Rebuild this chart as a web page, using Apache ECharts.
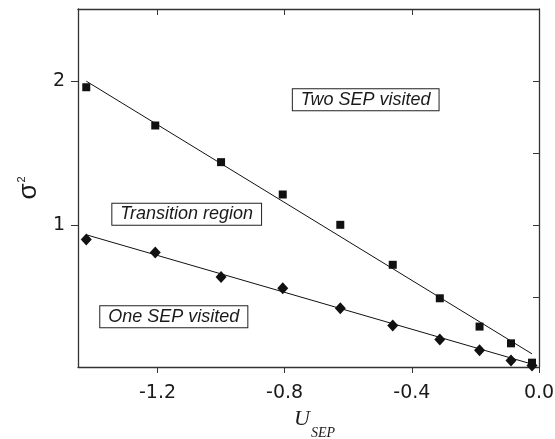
<!DOCTYPE html>
<html>
<head>
<meta charset="utf-8">
<script src="https://cdn.jsdelivr.net/npm/echarts@6/dist/echarts.min.js"></script>
<style>
html,body{margin:0;padding:0;background:#fff;}
#chart{width:555px;height:439px;}
</style>
</head>
<body>
<div id="chart"></div>
<script>
// ---- data ----
const uSep = [-1.424, -1.207, -1.0, -0.806, -0.625, -0.46, -0.312, -0.187, -0.088, -0.022];
const twoSep = [1.958, 1.693, 1.439, 1.215, 1.005, 0.728, 0.496, 0.30, 0.184, 0.05];
const oneSep = [0.903, 0.813, 0.644, 0.566, 0.427, 0.307, 0.21, 0.136, 0.065, 0.03];
const twoFitX = [-1.424, -0.022];
const twoFitY = [2.0, 0.111];
const oneFitX = [-1.424, -0.022];
const oneFitY = [0.936, 0.04];
const xTicks = [-1.2, -0.8, -0.4, 0.0];
const xTopTicks = [-1.2, -0.8, -0.4];
const yMajor = [1, 2];
const yMinor = [0.5, 1.5];
const yRightTicks = [0.5, 1, 1.5, 2];
const annotations = ['Two SEP visited', 'Transition region', 'One SEP visited'];

const pair = (xs, ys) => xs.map((x, i) => [x, ys[i]]);
const frame = '#333';
const ink = '#111';
const yMin = 0.02, yMax = 2.5, xMin = -1.45, xMax = 0;

const chart = echarts.init(document.getElementById('chart'), null, {renderer: 'canvas'});
const tickFont = {fontFamily: 'DejaVu Sans', fontSize: 19, color: '#1a1a1a'};

chart.setOption({
  animation: false,
  backgroundColor: '#fff',
  grid: {left: 78, right: 16, top: 9, bottom: 72, containLabel: false, outerBoundsMode: 'none'},
  xAxis: [
    {
      type: 'value', position: 'bottom', min: xMin, max: xMax,
      axisLine: {show: true, onZero: false, lineStyle: {color: frame, width: 1.3}},
      axisTick: {show: true, inside: false, length: 6, customValues: xTicks, lineStyle: {color: frame, width: 1}},
      axisLabel: Object.assign({customValues: xTicks, margin: 17, formatter: v => Number(v).toFixed(1)}, tickFont),
      splitLine: {show: false},
      name: '{u|U}{s|SEP}', nameLocation: 'middle', nameGap: 41,
      nameTextStyle: {
        padding: [0, 0, 0, 12],
        rich: {
          u: {fontFamily: 'Liberation Serif', fontStyle: 'italic', fontSize: 22, lineHeight: 22, color: '#1a1a1a', verticalAlign: 'top'},
          s: {fontFamily: 'Liberation Serif', fontStyle: 'italic', fontSize: 14, lineHeight: 14, color: '#1a1a1a', verticalAlign: 'top', padding: [18, 0, 0, 1]}
        }
      }
    },
    {
      type: 'value', position: 'top', min: xMin, max: xMax,
      axisLine: {show: true, onZero: false, lineStyle: {color: frame, width: 1.3}},
      axisTick: {show: true, inside: true, length: 6, customValues: xTopTicks, lineStyle: {color: frame, width: 1}},
      axisLabel: {show: false},
      splitLine: {show: false}
    }
  ],
  yAxis: [
    {
      type: 'value', position: 'left', min: yMin, max: yMax,
      axisLine: {show: true, onZero: false, lineStyle: {color: frame, width: 1.3}},
      axisTick: {show: true, inside: false, length: 7, customValues: yMajor, lineStyle: {color: frame, width: 1}},
      axisLabel: Object.assign({customValues: yMajor, margin: 13}, tickFont),
      splitLine: {show: false},
      name: '{a|σ}{b|2}', nameLocation: 'middle', nameRotate: 90, nameGap: 35,
      nameTextStyle: {
        rich: {
          a: {fontFamily: 'Liberation Sans', fontSize: 26, color: '#1a1a1a'},
          b: {fontFamily: 'Liberation Sans', fontSize: 11, color: '#1a1a1a', verticalAlign: 'top', padding: [0, 0, 8, 1]}
        }
      }
    },
    {
      type: 'value', position: 'left', min: yMin, max: yMax,
      axisLine: {show: false},
      axisTick: {show: true, inside: false, length: 4, customValues: yMinor, lineStyle: {color: frame, width: 1}},
      axisLabel: {show: false},
      splitLine: {show: false}
    },
    {
      type: 'value', position: 'right', min: yMin, max: yMax,
      axisLine: {show: true, onZero: false, lineStyle: {color: frame, width: 1.3}},
      axisTick: {show: true, inside: true, length: 6, customValues: yRightTicks, lineStyle: {color: frame, width: 1}},
      axisLabel: {show: false},
      splitLine: {show: false}
    }
  ],
  series: [
    {
      type: 'line', data: pair(twoFitX, twoFitY), showSymbol: false, symbol: 'none',
      lineStyle: {color: ink, width: 1}, z: 2, silent: true
    },
    {
      type: 'line', data: pair(oneFitX, oneFitY), showSymbol: false, symbol: 'none',
      lineStyle: {color: ink, width: 1}, z: 2, silent: true
    },
    {
      type: 'scatter', data: pair(uSep, twoSep), symbol: 'rect', symbolSize: 8,
      itemStyle: {color: ink, opacity: 1}, z: 3
    },
    {
      type: 'scatter', data: pair(uSep, oneSep), symbol: 'diamond', symbolSize: [11, 12],
      itemStyle: {color: ink, opacity: 1}, z: 3
    }
  ],
  graphic: [
    [365.7, 99.7], [186.7, 214.2], [173.8, 316.8]
  ].map((p, i) => ({
    type: 'text', x: p[0], y: p[1], z: 10,
    style: {
      text: annotations[i], align: 'center', verticalAlign: 'middle',
      font: 'italic 18px "Liberation Sans"', fill: '#1a1a1a',
      backgroundColor: '#fff', borderColor: '#222', borderWidth: 1,
      padding: [2, 8, 1, 8]
    }
  }))
});
</script>
</body>
</html>
